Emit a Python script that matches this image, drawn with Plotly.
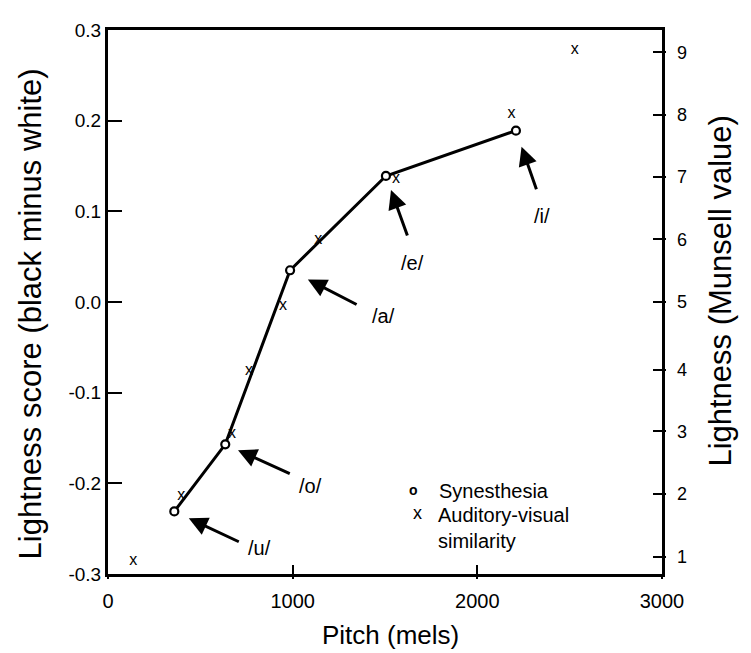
import plotly.graph_objects as go

# ---- data ----
syn_pitch = [359, 635, 986, 1505, 2209]
syn_light = [-0.231, -0.157, 0.035, 0.139, 0.189]
syn_labels = ["/u/", "/o/", "/a/", "/e/", "/i/"]

av_pitch = [137, 397, 672, 764, 947, 1138, 1560, 2185, 2527]
av_light = [-0.2855, -0.2137, -0.146, -0.0761, -0.0043, 0.0681, 0.1358, 0.2076, 0.2778]

x_ticks = [0, 1000, 2000, 3000]
y_ticks = [-0.3, -0.2, -0.1, 0.0, 0.1, 0.2, 0.3]
y_ticktext = ["-0.3", "-0.2", "-0.1", "0.0", "0.1", "0.2", "0.3"]
munsell_pos = [-0.2811, -0.2119, -0.1427, -0.0747, 0.0004, 0.0692, 0.1377, 0.2068, 0.2753]
munsell_text = ["1", "2", "3", "4", "5", "6", "7", "8", "9"]

# ---- annotation geometry (pixels) ----
arrow_ax = [66, 66, 68, 22, 21]
arrow_ay = [31, 30, 35, 61, 60]
arrow_standoff = [16, 14, 20, 15, 17]
label_dx = [85, 85, 93, 27, 26]
label_dy = [37, 42, 46, 87, 85]

FONT = "Liberation Sans, Arial, Helvetica, sans-serif"

fig = go.Figure()

fig.add_trace(go.Scatter(
    x=av_pitch, y=av_light, mode="text", text=["x"] * len(av_pitch),
    textposition="middle center", textfont=dict(size=16, color="black", family=FONT),
    showlegend=False, hoverinfo="skip"))

fig.add_trace(go.Scatter(
    x=syn_pitch, y=syn_light, mode="lines+markers",
    line=dict(color="black", width=3),
    marker=dict(symbol="circle", size=8, color="white", line=dict(color="black", width=2.2)),
    showlegend=False))

# empty traces so the overlay axes are created
fig.add_trace(go.Scatter(x=[], y=[], xaxis="x2", yaxis="y2", showlegend=False))
fig.add_trace(go.Scatter(x=[], y=[], xaxis="x", yaxis="y3", showlegend=False))

ann = []
for i in range(len(syn_pitch)):
    ann.append(dict(x=syn_pitch[i], y=syn_light[i], xref="x", yref="y", text="",
                    showarrow=True, ax=arrow_ax[i], ay=arrow_ay[i],
                    arrowhead=2, arrowsize=1.25, arrowwidth=3, arrowcolor="black",
                    standoff=arrow_standoff[i]))
    ann.append(dict(x=syn_pitch[i], y=syn_light[i], xref="x", yref="y", text=syn_labels[i],
                    showarrow=False, xshift=label_dx[i], yshift=-label_dy[i],
                    font=dict(size=20, color="black", family=FONT)))

# page pixel -> paper coordinates (page has an 8px body margin)
def px_x(p):
    return (p - 108) / 554.0

def px_y(p):
    return (574 - p) / 549.0

# legend (drawn as text)
ann += [
    dict(x=px_x(413), y=px_y(489), xref="paper", yref="paper", text="<b>o</b>", showarrow=False,
         xanchor="center", yanchor="middle", font=dict(size=14, color="black", family=FONT)),
    dict(x=px_x(437), y=px_y(490), xref="paper", yref="paper", text="Synesthesia", showarrow=False,
         xanchor="left", yanchor="middle", font=dict(size=20, color="black", family=FONT)),
    dict(x=px_x(417), y=px_y(512), xref="paper", yref="paper", text="x", showarrow=False,
         xanchor="center", yanchor="middle", font=dict(size=18, color="black", family=FONT)),
    dict(x=px_x(436), y=px_y(501), xref="paper", yref="paper", text="Auditory-visual<br>similarity",
         showarrow=False, xanchor="left", yanchor="top", align="left",
         font=dict(size=20, color="black", family=FONT)),
]

# axis titles
ann += [
    dict(x=px_x(390), y=px_y(636), xref="paper", yref="paper", text="Pitch (mels)", showarrow=False,
         xanchor="center", yanchor="middle", font=dict(size=26, color="black", family=FONT)),
    dict(x=px_x(30), y=px_y(312), xref="paper", yref="paper", text="Lightness score (black minus white)",
         showarrow=False, textangle=-90, xanchor="center", yanchor="middle",
         font=dict(size=31, color="black", family=FONT)),
    dict(x=px_x(721), y=px_y(288), xref="paper", yref="paper", text="Lightness (Munsell value)",
         showarrow=False, textangle=-90, xanchor="center", yanchor="middle",
         font=dict(size=31, color="black", family=FONT)),
]

common = dict(showgrid=False, zeroline=False)

fig.update_layout(
    width=743, height=645,
    margin=dict(l=100, r=89, t=17, b=79),
    paper_bgcolor="white", plot_bgcolor="white",
    font=dict(family=FONT, color="black"),
    showlegend=False,
    annotations=ann,
    xaxis=dict(range=[0, 3000], tickmode="array", tickvals=x_ticks, ticks="inside", ticklen=9,
               tickwidth=2, tickcolor="black", showline=True, linewidth=3, linecolor="black",
               mirror=True, tickfont=dict(size=20), ticklabelstandoff=7, **common),
    xaxis2=dict(range=[0, 3000], overlaying="x", anchor="y", side="bottom", tickmode="array",
                tickvals=x_ticks, ticks="outside", ticklen=4, tickwidth=2, tickcolor="black",
                showticklabels=False, showline=False, **common),
    yaxis=dict(range=[-0.3, 0.3], tickmode="array", tickvals=y_ticks, ticktext=y_ticktext,
               ticks="inside", ticklen=14, tickwidth=2, tickcolor="black", showline=True,
               linewidth=3, linecolor="black", mirror=True, tickfont=dict(size=19),
               ticklabelstandoff=0, **common),
    yaxis2=dict(range=[-0.3, 0.3], overlaying="y", anchor="x", side="right", tickmode="array",
                tickvals=munsell_pos, ticktext=munsell_text, ticks="inside", ticklen=9,
                tickwidth=2, tickcolor="black", showline=False, tickfont=dict(size=18),
                ticklabelstandoff=14, **common),
    yaxis3=dict(range=[-0.3, 0.3], overlaying="y", anchor="x", side="right", tickmode="array",
                tickvals=munsell_pos, ticks="outside", ticklen=3, tickwidth=2, tickcolor="black",
                showticklabels=False, showline=False, **common),
)

fig.write_html("out.html")
